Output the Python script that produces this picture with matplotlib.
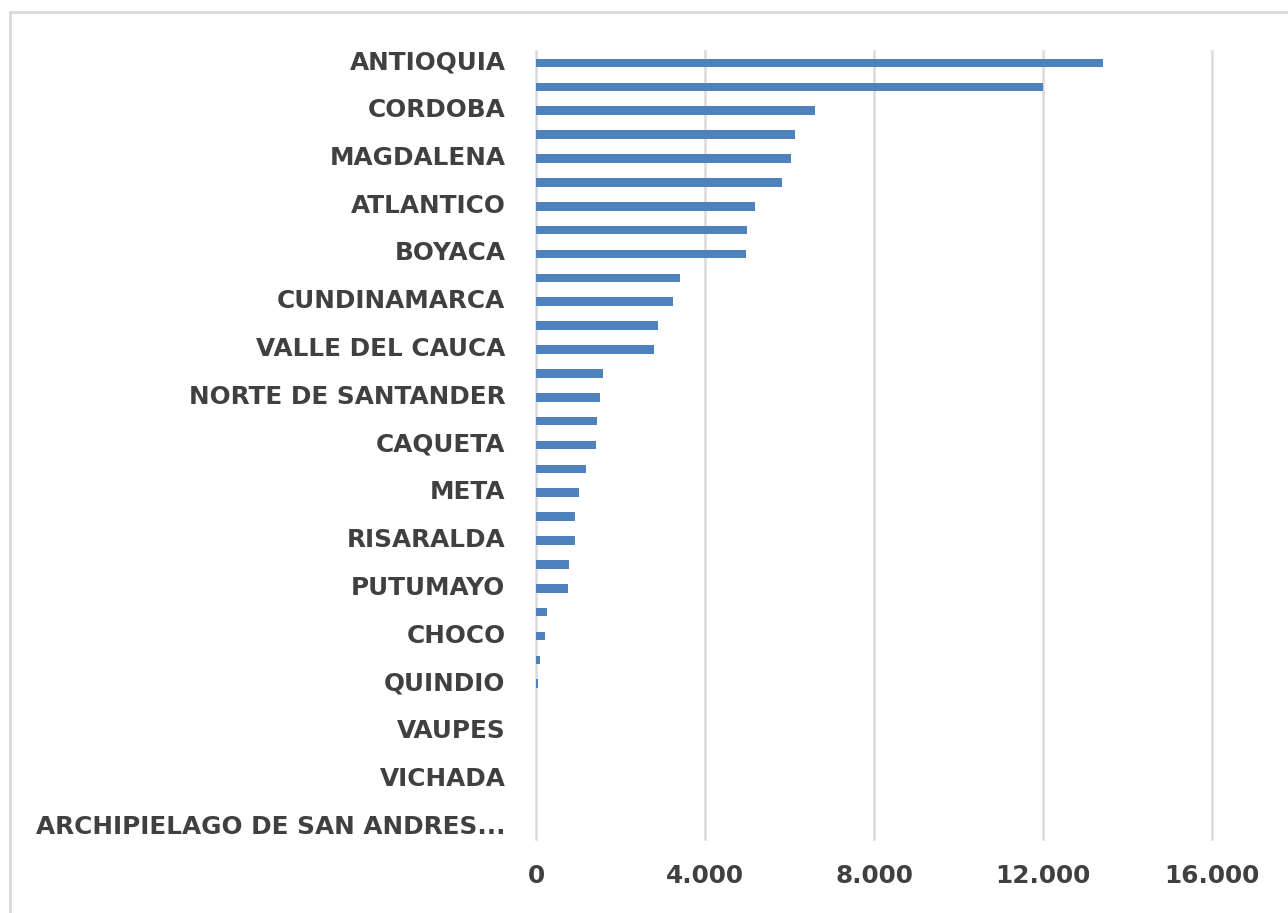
import matplotlib

matplotlib.use("Agg")

import matplotlib.pyplot as plt
from matplotlib.lines import Line2D
from matplotlib.transforms import ScaledTranslation

# Departments, top to bottom as drawn; only every other name is shown on the axis
DEPARTMENTS = [
    "ANTIOQUIA", "BOLIVAR", "CORDOBA", "CESAR", "MAGDALENA", "SUCRE",
    "ATLANTICO", "SANTANDER", "BOYACA", "BOGOTA", "CUNDINAMARCA", "TOLIMA",
    "VALLE DEL CAUCA", "HUILA", "NORTE DE SANTANDER", "NARIÑO", "CAQUETA",
    "CAUCA", "META", "CALDAS", "RISARALDA", "LA GUAJIRA", "PUTUMAYO",
    "CASANARE", "CHOCO", "ARAUCA", "QUINDIO", "GUAVIARE", "VAUPES",
    "AMAZONAS", "VICHADA", "GUAINIA", "ARCHIPIELAGO DE SAN ANDRES...",
]
VALUES = [
    13420, 12005, 6615, 6120, 6045, 5820,
    5195, 4990, 4970, 3408, 3243, 2888,
    2793, 1578, 1507, 1436, 1412,
    1176, 1012, 917, 917, 790, 767,
    268, 213, 103, 55, 0, 0,
    0, 0, 0, 0,
]
X_TICKS = [0, 4000, 8000, 12000, 16000]
X_TICK_LABELS = ["0", "4.000", "8.000", "12.000", "16.000"]

BAR_COLOR = "#4f81bd"
GRID_COLOR = "#d9d9d9"
TEXT_COLOR = "#404040"


def main():
    plt.rcParams["font.family"] = ["DejaVu Sans"]
    fig = plt.figure(figsize=(12.88, 9.13), dpi=100)
    fig.patch.set_facecolor("white")
    ax = fig.add_axes([536 / 1288, 1 - 839 / 913, 676 / 1288, 788 / 913])

    positions = list(range(len(DEPARTMENTS)))
    ax.barh(positions, VALUES, height=0.36, color=BAR_COLOR, linewidth=0, zorder=3)
    ax.set_ylim(len(DEPARTMENTS) - 0.5, -0.5)
    ax.set_xlim(0, 16000)

    ax.set_yticks(positions[::2])
    ax.set_yticklabels(DEPARTMENTS[::2], fontsize=17.8, fontweight="bold", color=TEXT_COLOR)
    ax.set_xticks(X_TICKS)
    ax.set_xticklabels(X_TICK_LABELS, fontsize=17.8, fontweight="bold", color=TEXT_COLOR)
    ax.tick_params(axis="y", length=0, pad=22)
    ax.tick_params(axis="x", length=0, pad=18)
    # names sit a little above the bar centres in the source
    lift = ScaledTranslation(0, 3 / 100, fig.dpi_scale_trans)
    for label in ax.get_yticklabels():
        label.set_transform(label.get_transform() + lift)

    ax.grid(axis="x", color=GRID_COLOR, linewidth=1.8, zorder=0)
    for line in ax.get_xgridlines():
        line.set_clip_on(False)
    for side in ("top", "right", "bottom", "left"):
        ax.spines[side].set_visible(False)

    # light chart frame, cut off at right and bottom like the source screenshot
    fig.add_artist(Line2D([10 / 1288, 10 / 1288], [0, 1 - 12 / 913],
                          transform=fig.transFigure, color=GRID_COLOR, linewidth=2))
    fig.add_artist(Line2D([10 / 1288, 1], [1 - 12 / 913, 1 - 12 / 913],
                          transform=fig.transFigure, color=GRID_COLOR, linewidth=2))

    fig.savefig("out.png", dpi=100, facecolor="white")
    plt.close(fig)


if __name__ == "__main__":
    main()
